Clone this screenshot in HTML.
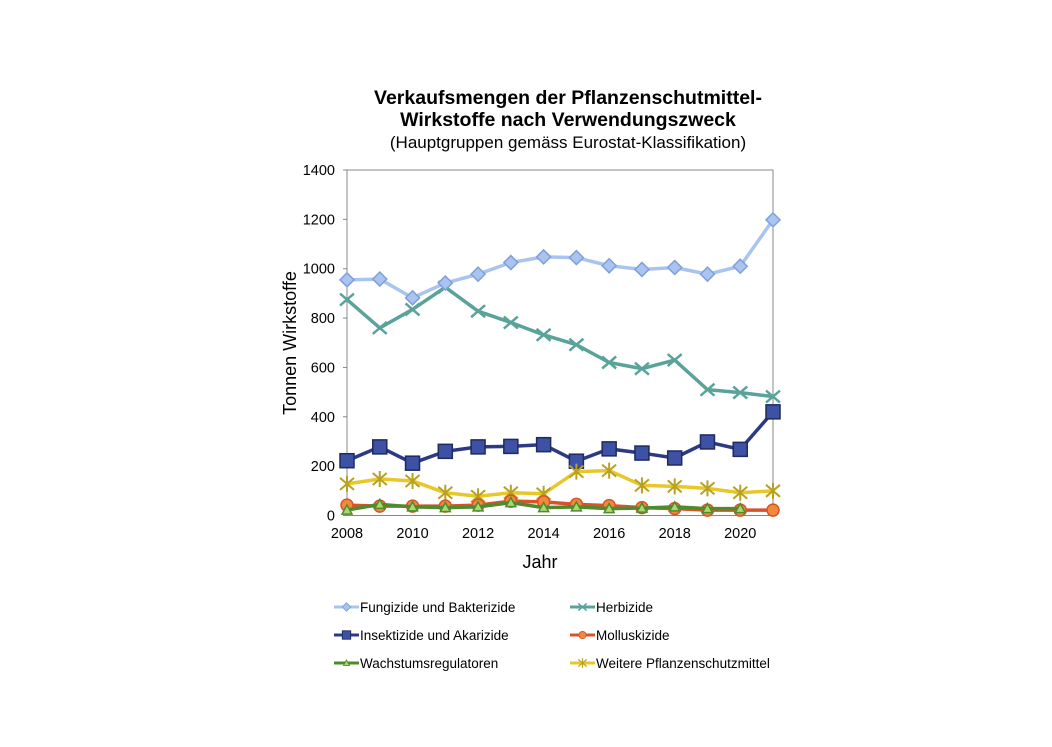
<!DOCTYPE html>
<html><head><meta charset="utf-8"><style>
html,body{margin:0;padding:0;background:#fff;}
svg{display:block;font-family:"Liberation Sans",Arial,sans-serif;}
</style></head><body>
<svg id="s" width="1052" height="747" viewBox="0 0 1052 747" xmlns="http://www.w3.org/2000/svg">
<rect width="1052" height="747" fill="#fff"/>
<text x="568" y="104" text-anchor="middle" font-size="19.5" font-weight="bold" fill="#000">Verkaufsmengen der Pflanzenschutmittel-</text>
<text x="568" y="126" text-anchor="middle" font-size="19.5" font-weight="bold" fill="#000">Wirkstoffe nach Verwendungszweck</text>
<text x="568" y="148" text-anchor="middle" font-size="17" fill="#000">(Hauptgruppen gemäss Eurostat-Klassifikation)</text>
<rect x="347" y="170" width="426" height="345.5" fill="none" stroke="#888" stroke-width="1"/>
<text transform="translate(296,343) rotate(-90)" text-anchor="middle" font-size="18" fill="#000">Tonnen Wirkstoffe</text>
<text x="540" y="568" text-anchor="middle" font-size="18" fill="#000">Jahr</text>
<g id="ax" font-size="14.5" fill="#000"></g>
<g id="ser"></g>
<g id="leg" font-size="13.5" fill="#000"></g>
</svg>
<script>
var X0=347,DX=32.77,Y0=515.5,SY=345.5/1400;
function px(i){return X0+i*DX}function py(v){return Y0-v*SY}
var ns="http://www.w3.org/2000/svg",ax=document.getElementById('ax'),ser=document.getElementById('ser'),leg=document.getElementById('leg');
function el(p,t,a,txt){var e=document.createElementNS(ns,t);for(var k in a)e.setAttribute(k,a[k]);if(txt)e.textContent=txt;p.appendChild(e);return e}
for(var v=0;v<=1400;v+=200){el(ax,'text',{x:335,y:py(v)+5,'text-anchor':'end'},String(v));el(ax,'line',{x1:343,x2:347,y1:py(v),y2:py(v),stroke:'#888'})}
for(var y=2008;y<=2020;y+=2){el(ax,'text',{x:px(y-2008),y:538,'text-anchor':'middle'},String(y))}
function marker(g,type,x,y,c,f){
 if(type=='d')el(g,'polygon',{points:[x,y-7,x+7,y,x,y+7,x-7,y].join(' '),fill:f,stroke:c,'stroke-width':1.5});
 else if(type=='s')el(g,'rect',{x:x-7,y:y-7,width:14,height:14,fill:f,stroke:'#1f2a5e','stroke-width':1.5});
 else if(type=='c')el(g,'circle',{cx:x,cy:y,r:6,fill:f,stroke:c,'stroke-width':1.5});
 else if(type=='t')el(g,'polygon',{points:[x,y-5,x+5,y+4,x-5,y+4].join(' '),fill:f,stroke:c,'stroke-width':1.5});
 else if(type=='x'){el(g,'path',{d:'M'+(x-7)+' '+(y-6)+'L'+(x+7)+' '+(y+6)+'M'+(x-7)+' '+(y+6)+'L'+(x+7)+' '+(y-6),stroke:c,'stroke-width':2.5})}
 else if(type=='a'){el(g,'path',{d:'M'+(x-7)+' '+(y-6)+'L'+(x+7)+' '+(y+6)+'M'+(x-7)+' '+(y+6)+'L'+(x+7)+' '+(y-6)+'M'+x+' '+(y-8)+'L'+x+' '+(y+8),stroke:c,'stroke-width':2})}
}
var S=[
{n:'Herbizide',c:'#5aa39a',t:'x',f:'none',d:[875,760,835,925,828,782,732,692,620,595,630,510,498,482]},
{n:'Fungizide und Bakterizide',c:'#a9c4ee',t:'d',f:'#a9c4ee',mc:'#7f9fdc',d:[955,958,882,942,978,1025,1048,1045,1012,997,1005,978,1010,1198]},
{n:'Insektizide und Akarizide',c:'#2c3a86',t:'s',f:'#3d52a4',d:[222,278,212,260,278,280,287,220,270,253,233,298,268,420]},
{n:'Weitere Pflanzenschutzmittel',c:'#e8c829',t:'a',f:'none',mc:'#b8a020',d:[128,148,140,92,78,92,88,178,182,122,118,110,92,100]},
{n:'Molluskizide',c:'#d9532a',t:'c',f:'#ee8a3a',d:[42,38,38,38,42,58,55,45,40,32,28,22,22,22]},
{n:'Wachstumsregulatoren',c:'#4e8a2e',t:'t',f:'#a8d870',d:[22,45,35,32,35,52,32,35,28,30,35,28,28]}
];
S.forEach(function(s){var g=el(ser,'g',{});var pts=s.d.map(function(v,i){return px(i)+','+py(v)}).join(' ');
 el(g,'polyline',{points:pts,fill:'none',stroke:s.c,'stroke-width':3.5,'stroke-linejoin':'round'});
 s.d.forEach(function(v,i){marker(g,s.t,px(i),py(v),s.mc||s.c,s.f)})});
var L=[[1,334,607],[0,570,607],[2,334,635],[4,570,635],[5,334,663],[3,570,663]];
L.forEach(function(l){var s=S[l[0]],x=l[1],y=l[2];el(leg,'line',{x1:x,x2:x+25,y1:y,y2:y,stroke:s.c,'stroke-width':3});
 var g=el(leg,'g',{transform:'translate('+(x+12.5)+','+y+') scale(0.6)'});marker(g,s.t,0,0,s.mc||s.c,s.f);
 el(leg,'text',{x:x+26,y:y+5},s.n)});
</script>
</body></html>
